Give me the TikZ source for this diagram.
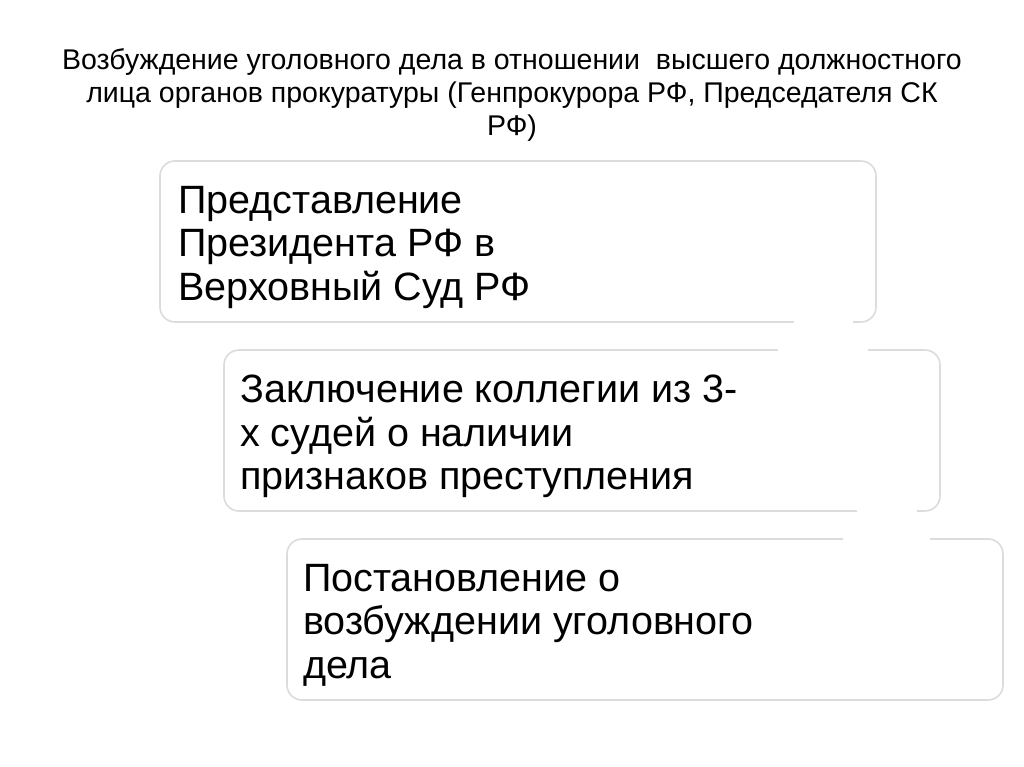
\documentclass[tikz,border=0pt]{standalone}
\usepackage{fontspec}
\setmainfont{Liberation Sans}
\definecolor{boxline}{HTML}{DCDCDC}
\begin{document}
\begin{tikzpicture}[x=1pt,y=-1pt,
  stepbox/.style={draw=boxline,line width=1.6pt,rounded corners=15pt},
  boxtext/.style={anchor=north west,inner sep=0pt,align=left,font=\fontsize{39.5}{43.5}\selectfont},
  titletext/.style={align=center,inner sep=0pt,font=\fontsize{28.5}{33}\selectfont}]
\useasboundingbox[fill=white] (0,0) rectangle (1024,767);
% title
\node[titletext,text=black] (title) at (512,95) {Возбуждение уголовного дела в отношении\ \ высшего должностного\\лица органов прокуратуры (Генпрокурора РФ, Председателя СК\\РФ)};
% boxes
\draw[stepbox] (160,161) rectangle (876,322) coordinate (b1);
\draw[stepbox] (224,350) rectangle (940,511) coordinate (b2);
\draw[stepbox] (287,539) rectangle (1003,700) coordinate (b3);
% faint white arrow shapes hiding parts of the borders
\fill[white] (794,318) rectangle (853,326);
\fill[white] (778,346) rectangle (868,354);
\fill[white] (857,507) rectangle (917,515);
\fill[white] (843,535) rectangle (930,543);
% texts
\node[boxtext] (t1) at (178,186) {Представление\\Президента РФ в\\Верховный Суд РФ};
\node[boxtext] (t2) at (240,375) {Заключение коллегии из 3-\\х судей о наличии\\признаков преступления};
\node[boxtext] (t3) at (303,564) {Постановление о\\возбуждении уголовного\\дела};
\end{tikzpicture}
\end{document}
